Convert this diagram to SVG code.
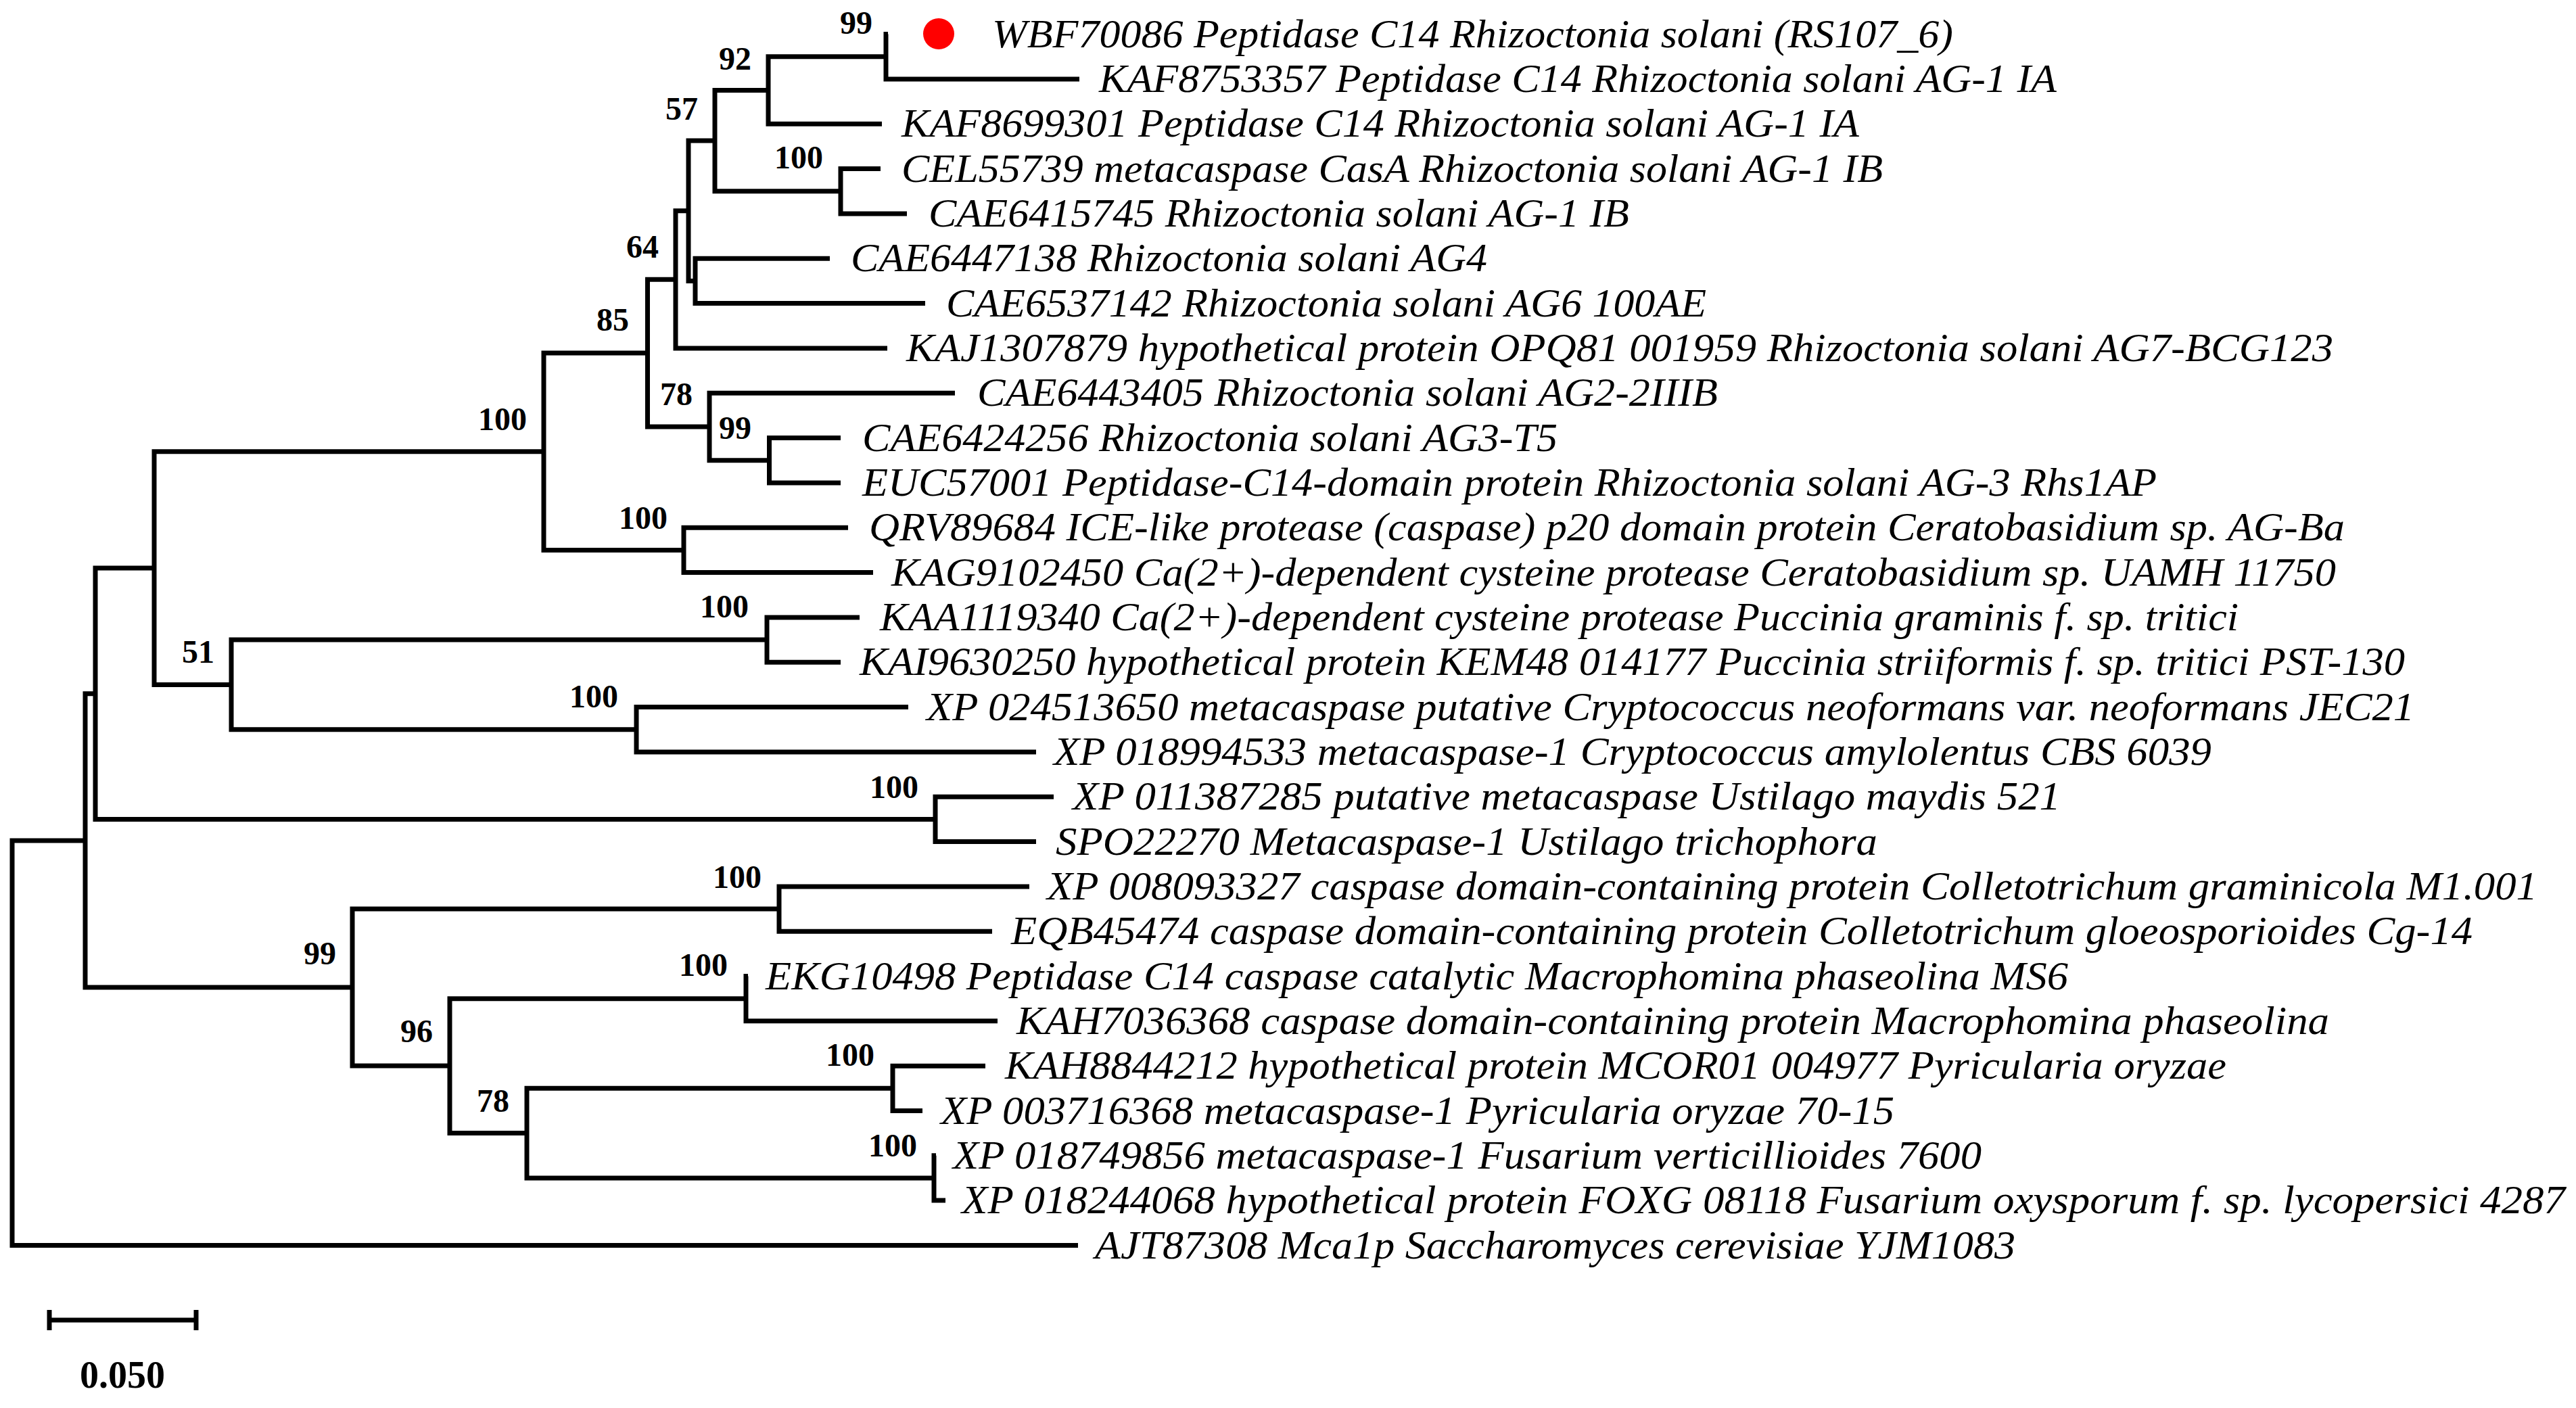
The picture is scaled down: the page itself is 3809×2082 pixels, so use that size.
<svg xmlns="http://www.w3.org/2000/svg" width="3809" height="2082" viewBox="0 0 3809 2082">
<style>
.br{fill:none;stroke:#000;stroke-width:7;stroke-linejoin:miter;stroke-linecap:butt}
.lf{font-family:"Liberation Serif","Times New Roman",serif;font-style:italic;font-size:60px;fill:#000}
.bs{font-family:"Liberation Serif","Times New Roman",serif;font-weight:bold;font-size:48px;fill:#000;text-anchor:end}
.sc{font-family:"Liberation Serif","Times New Roman",serif;font-weight:bold;font-size:56px;fill:#000;text-anchor:middle}
</style>
<rect width="3809" height="2082" fill="#fff"/>
<g id="connectors">
<path class="br" d="M1313 50.6 H1310 V117 H1596"/>
<path class="br" d="M1310 83.8 H1136 V183.3 H1304"/>
<path class="br" d="M1302 249.6 H1243 V315.9 H1341"/>
<path class="br" d="M1136 133.5 H1057 V282.8 H1243"/>
<path class="br" d="M1227 382.3 H1028 V448.6 H1368"/>
<path class="br" d="M1057 208 H1018 V415.5 H1028"/>
<path class="br" d="M1018 311.8 H999 V514.9 H1312"/>
<path class="br" d="M1243 647.6 H1137.5 V713.9 H1243"/>
<path class="br" d="M1412 581.2 H1049 V680.8 H1137.5"/>
<path class="br" d="M999 413.3 H957.5 V631 H1049"/>
<path class="br" d="M1254 780.2 H1011 V846.5 H1291"/>
<path class="br" d="M957.5 522 H804 V813.4 H1011"/>
<path class="br" d="M1271 912.9 H1134 V979.2 H1243"/>
<path class="br" d="M1343 1045.5 H941 V1111.9 H1532"/>
<path class="br" d="M1134 946 H342 V1078.7 H941"/>
<path class="br" d="M804 667.7 H228 V1012.4 H342"/>
<path class="br" d="M1558 1178.2 H1383 V1244.5 H1532"/>
<path class="br" d="M228 840 H141 V1211.4 H1383"/>
<path class="br" d="M1522 1310.9 H1152 V1377.2 H1467"/>
<path class="br" d="M1106 1443.5 H1103 V1509.8 H1475"/>
<path class="br" d="M1457 1576.2 H1320 V1642.5 H1364"/>
<path class="br" d="M1384 1708.8 H1381 V1775.1 H1398"/>
<path class="br" d="M1320 1609.3 H779 V1742 H1381"/>
<path class="br" d="M1103 1476.7 H665 V1675.6 H779"/>
<path class="br" d="M1152 1344 H521 V1576 H665"/>
<path class="br" d="M141 1025.7 H126 V1460 H521"/>
<path class="br" d="M126 1243 H18 V1841.5 H1594"/>
</g>
<g id="leaves">
<g id="leaf0"><circle cx="1388" cy="50" r="23" fill="#f00"/><text class="lf" x="1467" y="70" textLength="1421" lengthAdjust="spacingAndGlyphs">WBF70086 Peptidase C14 Rhizoctonia solani (RS107_6)</text></g>
<g id="leaf1"><text class="lf" x="1625" y="136" textLength="1416" lengthAdjust="spacingAndGlyphs">KAF8753357 Peptidase C14 Rhizoctonia solani AG-1 IA</text></g>
<g id="leaf2"><text class="lf" x="1333" y="202" textLength="1416" lengthAdjust="spacingAndGlyphs">KAF8699301 Peptidase C14 Rhizoctonia solani AG-1 IA</text></g>
<g id="leaf3"><text class="lf" x="1333" y="269" textLength="1451" lengthAdjust="spacingAndGlyphs">CEL55739 metacaspase CasA Rhizoctonia solani AG-1 IB</text></g>
<g id="leaf4"><text class="lf" x="1373" y="335" textLength="1036" lengthAdjust="spacingAndGlyphs">CAE6415745 Rhizoctonia solani AG-1 IB</text></g>
<g id="leaf5"><text class="lf" x="1258" y="401" textLength="941" lengthAdjust="spacingAndGlyphs">CAE6447138 Rhizoctonia solani AG4</text></g>
<g id="leaf6"><text class="lf" x="1399" y="468" textLength="1124" lengthAdjust="spacingAndGlyphs">CAE6537142 Rhizoctonia solani AG6 100AE</text></g>
<g id="leaf7"><text class="lf" x="1340" y="534" textLength="2110" lengthAdjust="spacingAndGlyphs">KAJ1307879 hypothetical protein OPQ81 001959 Rhizoctonia solani AG7-BCG123</text></g>
<g id="leaf8"><text class="lf" x="1445" y="600" textLength="1095" lengthAdjust="spacingAndGlyphs">CAE6443405 Rhizoctonia solani AG2-2IIIB</text></g>
<g id="leaf9"><text class="lf" x="1275" y="667" textLength="1028" lengthAdjust="spacingAndGlyphs">CAE6424256 Rhizoctonia solani AG3-T5</text></g>
<g id="leaf10"><text class="lf" x="1275" y="733" textLength="1914" lengthAdjust="spacingAndGlyphs">EUC57001 Peptidase-C14-domain protein Rhizoctonia solani AG-3 Rhs1AP</text></g>
<g id="leaf11"><text class="lf" x="1285" y="799" textLength="2182" lengthAdjust="spacingAndGlyphs">QRV89684 ICE-like protease (caspase) p20 domain protein Ceratobasidium sp. AG-Ba</text></g>
<g id="leaf12"><text class="lf" x="1318" y="866" textLength="2136" lengthAdjust="spacingAndGlyphs">KAG9102450 Ca(2+)-dependent cysteine protease Ceratobasidium sp. UAMH 11750</text></g>
<g id="leaf13"><text class="lf" x="1301" y="932" textLength="2009" lengthAdjust="spacingAndGlyphs">KAA1119340 Ca(2+)-dependent cysteine protease Puccinia graminis f. sp. tritici</text></g>
<g id="leaf14"><text class="lf" x="1271" y="998" textLength="2285" lengthAdjust="spacingAndGlyphs">KAI9630250 hypothetical protein KEM48 014177 Puccinia striiformis f. sp. tritici PST-130</text></g>
<g id="leaf15"><text class="lf" x="1370" y="1065" textLength="2200" lengthAdjust="spacingAndGlyphs">XP 024513650 metacaspase putative Cryptococcus neoformans var. neoformans JEC21</text></g>
<g id="leaf16"><text class="lf" x="1558" y="1131" textLength="1712" lengthAdjust="spacingAndGlyphs">XP 018994533 metacaspase-1 Cryptococcus amylolentus CBS 6039</text></g>
<g id="leaf17"><text class="lf" x="1586" y="1197" textLength="1461" lengthAdjust="spacingAndGlyphs">XP 011387285 putative metacaspase Ustilago maydis 521</text></g>
<g id="leaf18"><text class="lf" x="1561" y="1264" textLength="1215" lengthAdjust="spacingAndGlyphs">SPO22270 Metacaspase-1 Ustilago trichophora</text></g>
<g id="leaf19"><text class="lf" x="1548" y="1330" textLength="2204" lengthAdjust="spacingAndGlyphs">XP 008093327 caspase domain-containing protein Colletotrichum graminicola M1.001</text></g>
<g id="leaf20"><text class="lf" x="1495" y="1396" textLength="2161" lengthAdjust="spacingAndGlyphs">EQB45474 caspase domain-containing protein Colletotrichum gloeosporioides Cg-14</text></g>
<g id="leaf21"><text class="lf" x="1132" y="1463" textLength="1926" lengthAdjust="spacingAndGlyphs">EKG10498 Peptidase C14 caspase catalytic Macrophomina phaseolina MS6</text></g>
<g id="leaf22"><text class="lf" x="1503" y="1529" textLength="1941" lengthAdjust="spacingAndGlyphs">KAH7036368 caspase domain-containing protein Macrophomina phaseolina</text></g>
<g id="leaf23"><text class="lf" x="1486" y="1595" textLength="1806" lengthAdjust="spacingAndGlyphs">KAH8844212 hypothetical protein MCOR01 004977 Pyricularia oryzae</text></g>
<g id="leaf24"><text class="lf" x="1391" y="1662" textLength="1410" lengthAdjust="spacingAndGlyphs">XP 003716368 metacaspase-1 Pyricularia oryzae 70-15</text></g>
<g id="leaf25"><text class="lf" x="1409" y="1728" textLength="1521" lengthAdjust="spacingAndGlyphs">XP 018749856 metacaspase-1 Fusarium verticillioides 7600</text></g>
<g id="leaf26"><text class="lf" x="1422" y="1794" textLength="2371" lengthAdjust="spacingAndGlyphs">XP 018244068 hypothetical protein FOXG 08118 Fusarium oxysporum f. sp. lycopersici 4287</text></g>
<g id="leaf27"><text class="lf" x="1619" y="1861" textLength="1361" lengthAdjust="spacingAndGlyphs">AJT87308 Mca1p Saccharomyces cerevisiae YJM1083</text></g>
</g>
<g id="internal-nodes">
<g id="n-wbf"><text class="bs" x="1290" y="50">99</text></g>
<g id="n92"><text class="bs" x="1111" y="103">92</text></g>
<g id="n57"><text class="bs" x="1032" y="177">57</text></g>
<g id="n-cel"><text class="bs" x="1217" y="249">100</text></g>
<g id="n64"><text class="bs" x="974" y="381">64</text></g>
<g id="n85"><text class="bs" x="930" y="489">85</text></g>
<g id="n78a"><text class="bs" x="1024" y="599">78</text></g>
<g id="n99b"><text class="bs" x="1111" y="649">99</text></g>
<g id="n100big"><text class="bs" x="779" y="636">100</text></g>
<g id="n-cer"><text class="bs" x="987" y="782">100</text></g>
<g id="n-puc"><text class="bs" x="1107" y="913">100</text></g>
<g id="n51"><text class="bs" x="317" y="980">51</text></g>
<g id="n-cry"><text class="bs" x="914" y="1046">100</text></g>
<g id="n-ust"><text class="bs" x="1358" y="1180">100</text></g>
<g id="n-col"><text class="bs" x="1126" y="1313">100</text></g>
<g id="n99c"><text class="bs" x="497" y="1426">99</text></g>
<g id="n-mac"><text class="bs" x="1076" y="1443">100</text></g>
<g id="n96"><text class="bs" x="640" y="1541">96</text></g>
<g id="n78b"><text class="bs" x="753" y="1644">78</text></g>
<g id="n-pyr"><text class="bs" x="1293" y="1576">100</text></g>
<g id="n-fus"><text class="bs" x="1356" y="1710">100</text></g>
</g>
<g id="scale-bar">
<path class="br" d="M73 1952 H290 M73 1937 V1967 M290 1937 V1967"/>
<text class="sc" x="181" y="2052">0.050</text>
</g>
</svg>
